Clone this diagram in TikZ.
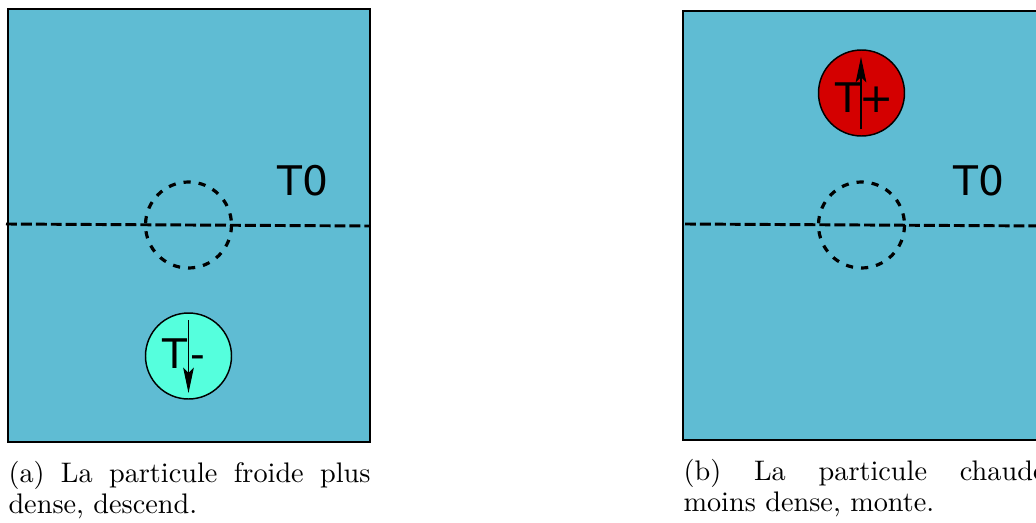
\documentclass[tikz,border=0pt]{standalone}
\usepackage{fontspec}
\newfontfamily\labelfont{DejaVu Sans}
\usetikzlibrary{arrows.meta}
\definecolor{water}{HTML}{5FBCD3}
\definecolor{cold}{HTML}{55FFDD}
\definecolor{hot}{HTML}{D40000}
\tikzset{
  panel/.style={draw=black, line width=0.8pt, fill=water},
  level/.style={draw=black, line width=1.1pt, dash pattern=on 4.1pt off 1.5pt},
  ghost/.style={draw=black, line width=1.2pt, dash pattern=on 2.7pt off 3pt},
  particle/.style={draw=black, line width=0.55pt},
  lbl/.style={font=\labelfont\fontsize{15.3}{18}\selectfont, inner sep=0pt, anchor=base},
  move/.style={line width=0.4pt, -{Stealth[length=9.5pt, width=4pt, inset=2pt]}},
  captext/.style={inner sep=0pt, anchor=base west, font=\fontsize{10.6}{11.8}\selectfont}
}
\begin{document}
\begin{tikzpicture}[x=0.375pt, y=-0.375pt]
\useasboundingbox (0,0) rectangle (1036,522);
% ---------- panel (a)
\draw[panel] (8,9) rectangle (370,442);
\draw[level] (6,224) coordinate (la) -- (370,226) coordinate (lb);
\draw[ghost] (188.5,225) circle[radius=43];
\node[lbl] (t0a) at (303,195) {T0};
\draw[particle, fill=cold] (188.5,356) circle[radius=43];
\node[lbl] (ta) at (175,368) {T};
\node[lbl] (ma) at (197.5,368) {-};
\coordinate (a1) at (188.5,320);
\coordinate (a2) at (188.5,393);
\draw[move] (a1) -- (a2);
\node[captext] (capa) at (8,482) {\parbox[t]{135.75pt}{(a) La particule froide plus\linebreak dense, descend.}};
% ---------- panel (b)
\draw[panel] (683,11) rectangle (1045,440);
\draw[level] (685,224) coordinate (lc) -- (1045,226) coordinate (ld);
\draw[ghost] (861.5,225) circle[radius=43];
\node[lbl] (t0b) at (979,195) {T0};
\draw[particle, fill=hot] (861.5,93) circle[radius=43];
\node[lbl] (tb) at (847.5,112) {T};
\node[lbl] (pb) at (876.5,112) {+};
\coordinate (b1) at (861,129);
\coordinate (b2) at (861,57);
\draw[move] (b1) -- (b2);
\node[captext] (capb) at (683,480) {\parbox[t]{135.75pt}{(b) La particule chaude\linebreak moins dense, monte.}};
\end{tikzpicture}
\end{document}
